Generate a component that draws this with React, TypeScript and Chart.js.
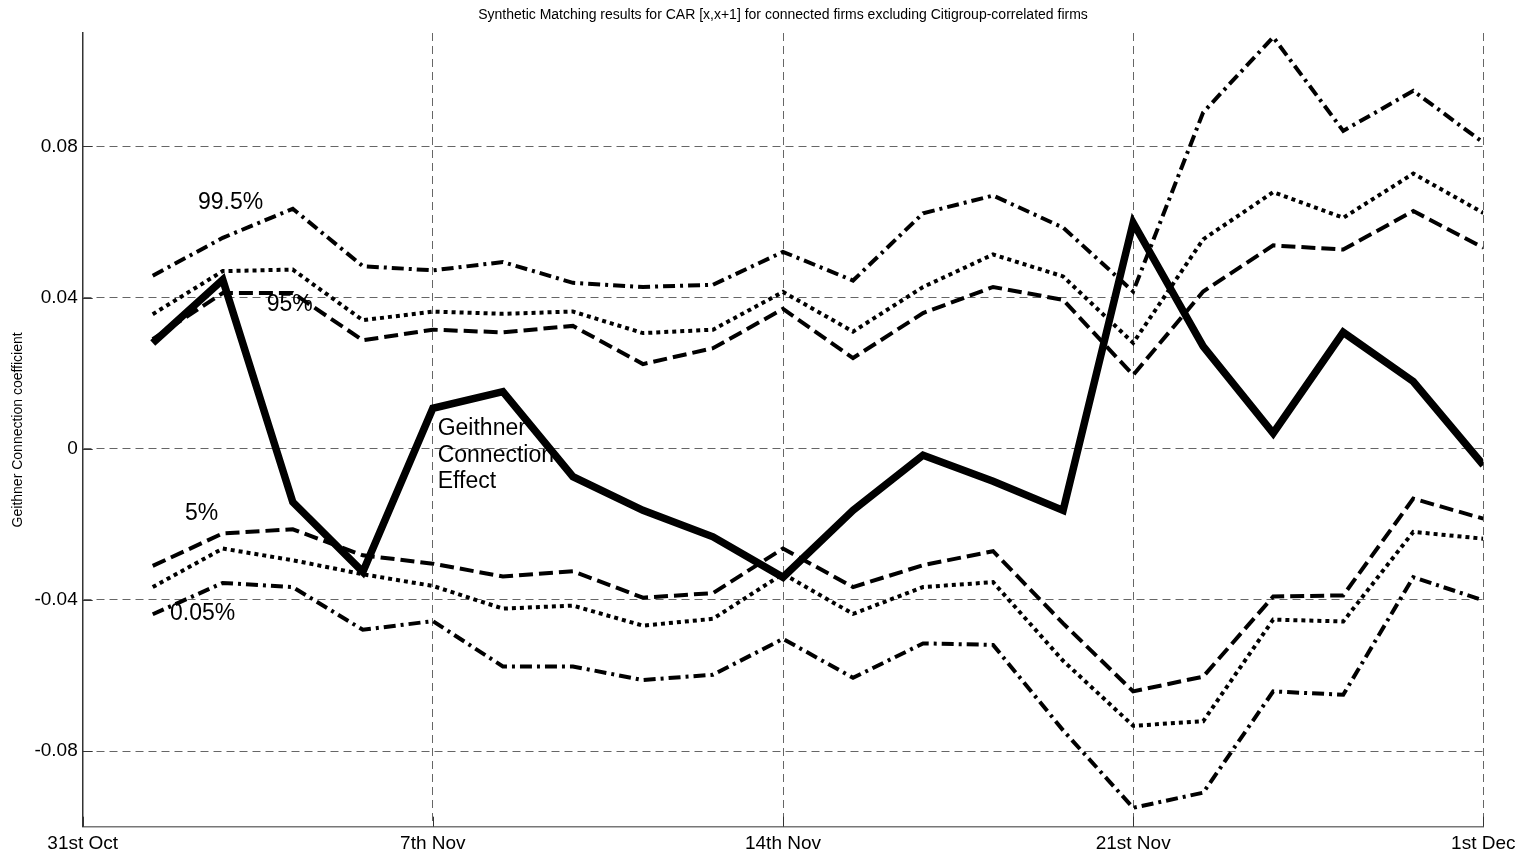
import React, { useEffect, useRef } from "react";
import { Chart, registerables } from "chart.js";

Chart.register(...registerables);

// ---- data ----
const dayIndex = [1, 2, 3, 4, 5, 6, 7, 8, 9, 10, 11, 12, 13, 14, 15, 16, 17, 18, 19, 20];
const xTickPositions = [0, 5, 10, 15, 20];
const xTickLabels = ["31st Oct", "7th Nov", "14th Nov", "21st Nov", "1st Dec"];
const yTickValues = [-0.08, -0.04, 0, 0.04, 0.08];
const yTickLabels = ["-0.08", "-0.04", "0", "0.04", "0.08"];

const geithnerEffect = [0.028, 0.0447, -0.0141, -0.0326, 0.0107, 0.0151, -0.0074, -0.0163, -0.0233, -0.034, -0.0163, -0.0017, -0.0086, -0.0163, 0.0598, 0.0271, 0.0041, 0.0308, 0.0178, -0.0043];
const upper995 = [0.0458, 0.0558, 0.0635, 0.0483, 0.0472, 0.0494, 0.0439, 0.0428, 0.0434, 0.0521, 0.0445, 0.0623, 0.067, 0.0585, 0.0416, 0.089, 0.1089, 0.0841, 0.0947, 0.081];
const upper99 = [0.0356, 0.047, 0.0474, 0.034, 0.0363, 0.0357, 0.0363, 0.0306, 0.0315, 0.0415, 0.031, 0.0428, 0.0514, 0.0456, 0.028, 0.0554, 0.0679, 0.0611, 0.0728, 0.0624];
const upper95 = [0.029, 0.0412, 0.0412, 0.0287, 0.0315, 0.0308, 0.0325, 0.0224, 0.0266, 0.037, 0.024, 0.0359, 0.0428, 0.0394, 0.0195, 0.0416, 0.0538, 0.0527, 0.0629, 0.0532];
const lower5 = [-0.031, -0.0224, -0.0213, -0.0282, -0.0304, -0.0338, -0.0324, -0.0394, -0.0382, -0.0264, -0.0366, -0.0308, -0.0271, -0.0462, -0.0642, -0.0603, -0.0391, -0.0388, -0.0132, -0.0185];
const lower1 = [-0.0366, -0.0264, -0.0295, -0.0332, -0.0363, -0.0423, -0.0415, -0.0468, -0.045, -0.0331, -0.0437, -0.0366, -0.0353, -0.0561, -0.0733, -0.0721, -0.0452, -0.0457, -0.022, -0.0238];
const lower005 = [-0.0438, -0.0355, -0.0366, -0.0479, -0.0456, -0.0576, -0.0576, -0.0612, -0.0598, -0.0503, -0.0606, -0.0515, -0.0519, -0.0745, -0.095, -0.091, -0.0642, -0.0651, -0.034, -0.0401];

// in-plot text labels, anchored in data coordinates
const noteTexts = ["99.5%", "95%", "Geithner", "Connection", "Effect", "5%", "0.05%"];
const noteX = [1.646, 2.627, 5.069, 5.069, 5.069, 1.461, 1.247];
const noteY = [0.0652, 0.0381, 0.0054, -0.0017, -0.0088, -0.0171, -0.0437];

const TITLE = "Synthetic Matching results for CAR [x,x+1] for connected firms excluding Citigroup-correlated firms";
const Y_TITLE = "Geithner Connection coefficient";
const FONT = "'Liberation Sans', Arial, sans-serif";

const toPoints = (vals: number[]) => vals.map((v, i) => ({ x: dayIndex[i], y: v }));

const notesPlugin = {
  id: "notes",
  beforeDatasetsDraw(chart: any) {
    const { ctx, scales } = chart;
    ctx.save();
    ctx.fillStyle = "#000";
    ctx.font = `23px ${FONT}`;
    ctx.textAlign = "left";
    ctx.textBaseline = "middle";
    noteTexts.forEach((t, i) => {
      ctx.fillText(t, scales.x.getPixelForValue(noteX[i]), scales.y.getPixelForValue(noteY[i]));
    });
    ctx.restore();
  },
};

const innerTicksPlugin = {
  id: "innerTicks",
  afterDatasetsDraw(chart: any) {
    const { ctx, scales, chartArea } = chart;
    ctx.save();
    ctx.strokeStyle = "#333";
    ctx.lineWidth = 1;
    ctx.setLineDash([]);
    ctx.beginPath();
    yTickValues.forEach((v) => {
      const y = Math.round(scales.y.getPixelForValue(v)) + 0.5;
      ctx.moveTo(chartArea.left, y);
      ctx.lineTo(chartArea.left + 10, y);
    });
    xTickPositions.forEach((v) => {
      const x = Math.round(scales.x.getPixelForValue(v)) + 0.5;
      ctx.moveTo(x, chartArea.bottom);
      ctx.lineTo(x, chartArea.bottom - 10);
    });
    ctx.stroke();
    ctx.restore();
  },
};

export default function App() {
  const canvasRef = useRef<HTMLCanvasElement | null>(null);

  useEffect(() => {
    if (!canvasRef.current) return;
    Chart.defaults.font.family = FONT;
    const common = { pointRadius: 0, tension: 0, fill: false, borderColor: "#000", borderCapStyle: "butt" as const, borderJoinStyle: "miter" as const };
    const chart = new Chart(canvasRef.current, {
      type: "line",
      data: {
        datasets: [
          { ...common, label: "Geithner Connection Effect", data: toPoints(geithnerEffect), borderWidth: 7.5, borderDash: [] },
          { ...common, label: "99.5%", data: toPoints(upper995), borderWidth: 4, borderDash: [12, 5, 3, 5] },
          { ...common, label: "99%", data: toPoints(upper99), borderWidth: 4, borderDash: [4, 4] },
          { ...common, label: "95%", data: toPoints(upper95), borderWidth: 4, borderDash: [14, 6] },
          { ...common, label: "5%", data: toPoints(lower5), borderWidth: 4, borderDash: [14, 6] },
          { ...common, label: "1%", data: toPoints(lower1), borderWidth: 4, borderDash: [4, 4] },
          { ...common, label: "0.05%", data: toPoints(lower005), borderWidth: 4, borderDash: [12, 5, 3, 5] },
        ],
      },
      options: {
        animation: false,
        responsive: true,
        maintainAspectRatio: false,
        layout: { padding: { left: 0, right: 44.7, top: 0, bottom: 0 } },
        plugins: {
          legend: { display: false },
          tooltip: { enabled: false },
          title: {
            display: true,
            fullSize: false,
            text: TITLE,
            color: "#000",
            font: { size: 14, weight: "normal", family: FONT },
            padding: { top: 6.6, bottom: 9.6 },
          },
        },
        scales: {
          x: {
            type: "linear",
            min: 0,
            max: 20,
            afterBuildTicks: (s: any) => {
              s.ticks = xTickPositions.map((v) => ({ value: v }));
            },
            afterFit: (s: any) => {
              s.height = 27.3;
            },
            ticks: {
              autoSkip: false,
              maxRotation: 0,
              padding: 5.5,
              color: "#000",
              font: { size: 19, family: FONT },
              callback: (v: any) => xTickLabels[xTickPositions.indexOf(Number(v))] ?? "",
            },
            grid: { color: "#666", lineWidth: 1, drawTicks: false },
            border: { display: true, color: "#777", width: 1.5, dash: [8, 5] },
          },
          y: {
            type: "linear",
            min: -0.1,
            max: 0.11,
            afterBuildTicks: (s: any) => {
              s.ticks = yTickValues.map((v) => ({ value: v }));
            },
            afterFit: (s: any) => {
              s.width = 82.7;
            },
            ticks: {
              padding: 5,
              color: "#000",
              font: { size: 19, family: FONT },
              callback: (v: any) => yTickLabels[yTickValues.indexOf(Number(v))] ?? "",
            },
            title: {
              display: true,
              text: Y_TITLE,
              color: "#000",
              font: { size: 14, family: FONT },
              padding: { top: 10, bottom: 0 },
            },
            grid: { color: "#666", lineWidth: 1, drawTicks: false },
            border: { display: true, color: "#333", width: 1.5, dash: [8, 5] },
          },
        },
      },
      plugins: [notesPlugin, innerTicksPlugin],
    });
    return () => chart.destroy();
  }, []);

  return (
    <div style={{ position: "fixed", left: 0, top: 0, width: 1528, height: 854, background: "#fff" }}>
      <canvas ref={canvasRef} />
    </div>
  );
}
